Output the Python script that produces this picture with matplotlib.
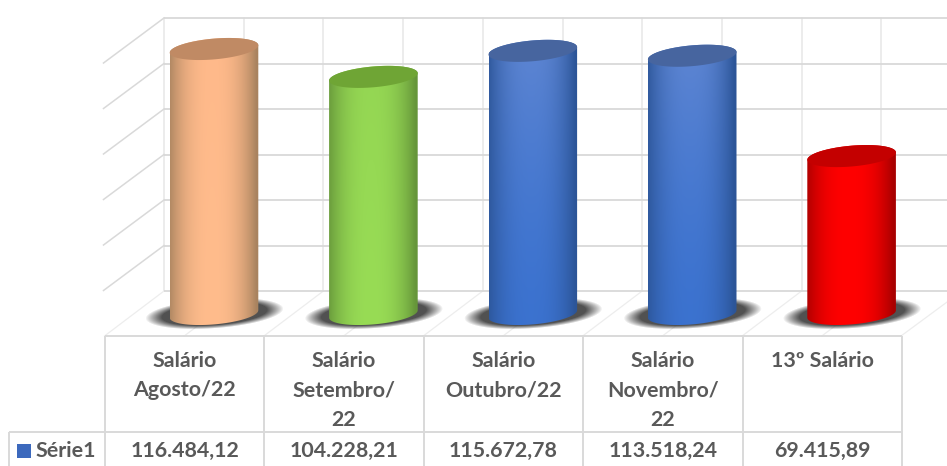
import numpy as np
import matplotlib
matplotlib.use("Agg")
import matplotlib.pyplot as plt
from matplotlib.patches import Polygon
from matplotlib.colors import to_rgb

# ---- data ----
categories = ["Salário\nAgosto/22", "Salário\nSetembro/\n22", "Salário\nOutubro/22",
              "Salário\nNovembro/\n22", "13º Salário"]
values = [116484.12, 104228.21, 115672.78, 113518.24, 69415.89]
value_labels = ["116.484,12", "104.228,21", "115.672,78", "113.518,24", "69.415,89"]
series_name = "Série1"
y_ticks = [0, 20000, 40000, 60000, 80000, 100000, 120000]

# ---- styles: (edge, centre, top face), blue has a lighter upper part ----
body_edge = ["#a9835f", "#66963a", "#2c5598", "#2c5598", "#a80000"]
body_centre = ["#ffbc8c", "#98dc55", "#3b72cf", "#3b72cf", "#ff0000"]
body_centre_top = ["#ffb98a", "#94d653", "#5f86d2", "#5f86d2", "#ff0000"]
top_face = ["#c08a64", "#6fa535", "#47659f", "#47659f", "#c40000"]

W, H = 947, 466
PX_PER_VALUE = 0.002275
X0, DX = 214.0, 159.4
BASE_Y = 314.0
HALF_W, TILT, MINOR = 44.3, 3.7, 10.4
BACK_Y, BACK_X = 291.0, 164.0
GRID_H, GRID_V, GRID_F, TXT = "#d9d9d9", "#e9e9e9", "#ededed", "#595959"
FONT = "Lato"

fig = plt.figure(figsize=(W / 100, H / 100), dpi=100, facecolor="white")

# frame axes in pixels (walls, floor, table)
fx = fig.add_axes([0, 0, 1, 1], zorder=0)
fx.set_xlim(0, W); fx.set_ylim(H, 0); fx.axis("off")

# data axes: x = category index, y = value
ax = fig.add_axes([0, 0, 1, 1], zorder=1)
ax.set_xlim(-X0 / DX, (W - X0) / DX)
ax.set_ylim((BASE_Y - H) / PX_PER_VALUE, BASE_Y / PX_PER_VALUE)
ax.axis("off")
ax.patch.set_alpha(0)

# walls
for t in y_ticks:
    y = BACK_Y - t * PX_PER_VALUE
    fx.plot([BACK_X, W], [y, y], color=GRID_H, lw=1.3, solid_capstyle="butt")
    if t > 0:
        fx.plot([BACK_X, BACK_X - 60.5], [y, y + 45], color=GRID_H, lw=1.1)
for k in range(0, 10):
    x = BACK_X + k * DX / 2
    fx.plot([x, x], [18, BACK_Y], color=GRID_V, lw=1.2, zorder=0.5)
    fx.plot([x, x - 59.5], [BACK_Y, 336], color=GRID_F, lw=0.9, zorder=0.5)
fx.plot([W + 15, W - 46], [BACK_Y, 336], color=GRID_F, lw=0.9, zorder=0.5)

# shadows
xx, yy = np.meshgrid(np.arange(W) + .5, np.arange(280, 340) + .5)
for i in range(len(values)):
    cx = X0 + DX * i + 0.5
    sy = 313.5 - (xx - cx) * 0.07
    r = np.sqrt(((xx - cx) / 69.0) ** 2 + ((yy - sy) / 15.0) ** 2)
    a = np.clip((1.0 - r) / 0.24, 0, 1) ** 0.9 * 0.95
    img = np.zeros(a.shape + (4,))
    img[..., :3] = 0.28
    img[..., 3] = a
    fx.imshow(img, extent=(0, W, 340, 280), aspect="auto", zorder=1, interpolation="bilinear")
fx.set_xlim(0, W); fx.set_ylim(H, 0)


def ellipse(cat, val, t):
    """Tilted ellipse outline in data coordinates."""
    dx = HALF_W * np.cos(t)
    dy = TILT * np.cos(t) + MINOR * np.sin(t)  # upward pixels
    return cat + dx / DX, val + dy / PX_PER_VALUE


# cylinders
for i, v in enumerate(values):
    t_low = np.linspace(np.pi, 2 * np.pi, 80)
    bx, by = ellipse(i, 0, t_low)
    tx, ty = ellipse(i, v, np.linspace(0, np.pi, 80))
    poly = Polygon(np.c_[np.r_[bx, tx], np.r_[by, ty]], closed=True, fc="none", ec="none")
    ax.add_patch(poly)
    # horizontal shading, mix of edge & centre colours
    n = 120
    u = np.linspace(-1, 1, n)
    m = (1 - np.abs(u + 0.05).clip(0, 1) ** 2.4)[None, :, None]
    rows = np.linspace(0, 1, 60)[:, None, None]
    ce = np.array(to_rgb(body_edge[i]))[None, None, :]
    cc = np.array(to_rgb(body_centre[i]))[None, None, :]
    ct = np.array(to_rgb(body_centre_top[i]))[None, None, :]
    centre = ct * (1 - rows) ** 1.5 + cc * (1 - (1 - rows) ** 1.5)
    grad = ce * (1 - m) + centre * m
    im = ax.imshow(grad, aspect="auto", interpolation="bilinear", zorder=2,
                   extent=(i - HALF_W / DX, i + HALF_W / DX,
                           -20 / PX_PER_VALUE, v + 20 / PX_PER_VALUE),
                   origin="upper")
    im.set_clip_path(poly)
    ex, ey = ellipse(i, v, np.linspace(0, 2 * np.pi, 160))
    ax.fill(ex, ey, color=top_face[i], zorder=3, lw=0)
ax.set_xlim(-X0 / DX, (W - X0) / DX)
ax.set_ylim((BASE_Y - H) / PX_PER_VALUE, BASE_Y / PX_PER_VALUE)

# data table
cols = [105 + k * DX for k in range(6)]
TL = dict(color=GRID_H, lw=1.4, zorder=4, solid_capstyle="butt")
fx.plot([105, cols[-1]], [336, 336], **TL)
fx.plot([8.5, cols[-1]], [432.3, 432.3], **TL)
fx.plot([8.5, 8.5], [432.3, H], **TL)
for c in cols:
    fx.plot([c, c], [336, H], **TL)

FS = 15.4
for i, cat in enumerate(categories):
    cx = (cols[i] + cols[i + 1]) / 2
    for j, line in enumerate(cat.split("\n")):
        fx.text(cx, 367 + j * 29.3, line, ha="center", va="baseline", fontsize=FS,
                fontweight="bold", family=FONT, color=TXT, zorder=5)
    fx.text(cx, 457, value_labels[i], ha="center", va="baseline", fontsize=FS,
            fontweight="bold", family=FONT, color=TXT, zorder=5)

fx.fill([17, 31, 31, 17], [444, 444, 458, 458], color="#3c69bd", lw=0, zorder=5)
fx.text(36, 457, series_name, ha="left", va="baseline", fontsize=FS,
        fontweight="bold", family=FONT, color=TXT, zorder=5)

fig.savefig("out.png", dpi=100)
